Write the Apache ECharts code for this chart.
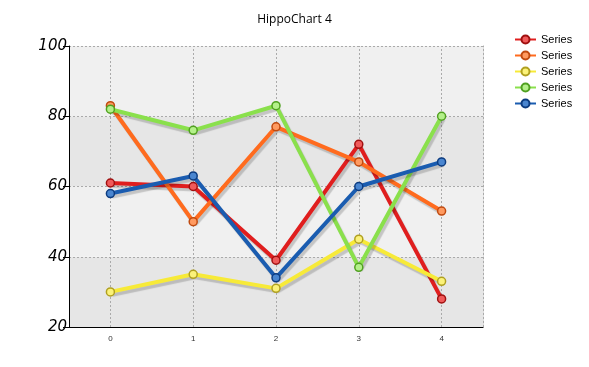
<!DOCTYPE html>
<html><head><meta charset="utf-8">
<script src="https://cdn.jsdelivr.net/npm/echarts@6/dist/echarts.min.js"></script>
<style>html,body{margin:0;padding:0;background:#fff}#c{width:589px;height:367px}</style>
</head><body><div id="c"></div>
<script>
const categories = ['0','1','2','3','4'];
const seriesNames = ['Series','Series','Series','Series','Series'];
const red = [61, 60, 39, 72, 28];
const orange = [83, 50, 77, 67, 53];
const yellow = [30, 35, 31, 45, 33];
const green = [82, 76, 83, 37, 80];
const blue = [58, 63, 34, 60, 67];
const yTicks = [20, 40, 60, 80, 100];

const allData = [red, orange, yellow, green, blue];
const lineColors = ['#e01e1e', '#ff6b1e', '#f7ea38', '#8ae04c', '#1a5cb0'];
const fillColors = ['#f05a5a', '#ff9a60', '#fbf27a', '#b4f08a', '#4a86d0'];
const borderColors = ['#a01010', '#c04a10', '#b0a020', '#50a020', '#0d3c80'];

const chart = echarts.init(document.getElementById('c'));
const series = allData.map((d, i) => {
  const s = {
    name: seriesNames[i] + (i ? '\u200b'.repeat(i) : ''),
    type: 'line',
    data: d,
    symbol: 'circle',
    symbolSize: 8,
    lineStyle: { width: 4, color: lineColors[i], shadowColor: 'rgba(0,0,0,0.18)', shadowOffsetX: 2, shadowOffsetY: 3, shadowBlur: 1 },
    itemStyle: { color: fillColors[i], borderColor: borderColors[i], borderWidth: 1.5 },
    emphasis: { disabled: true },
    z: 3
  };
  if (i === 0) {
    s.markLine = {
      silent: true, symbol: 'none', label: { show: false },
      lineStyle: { color: '#aaa', type: [2, 2], width: 1 },
      data: categories.map((c, k) => ({ xAxis: k })),
      z: 1
    };
  }
  return s;
});

chart.setOption({
  animation: false,
  backgroundColor: '#fff',
  title: { text: 'HippoChart 4', left: 'center', top: 9, textStyle: { fontSize: 12, fontWeight: 'normal', color: '#000', fontFamily: 'Open Sans' } },
  legend: {
    orient: 'vertical', left: 509, top: 29, itemGap: 5, itemWidth: 21, itemHeight: 10,
    textStyle: { fontSize: 11, color: '#000', fontFamily: 'Liberation Sans' },
    data: series.map(s => s.name)
  },
  grid: { left: 69, right: 106, top: 46, bottom: 40 },
  xAxis: {
    type: 'category', data: categories, boundaryGap: true,
    axisLine: { lineStyle: { color: '#000', width: 1 } },
    axisTick: { alignWithLabel: true, length: 5, lineStyle: { color: '#000' } },
    axisLabel: { fontSize: 8, color: '#333', margin: 8 },
    splitLine: { show: false }
  },
  yAxis: [{
    type: 'value', min: 20, max: 100, interval: 20,
    axisLine: { show: true, lineStyle: { color: '#000', width: 1 } },
    axisTick: { show: true, length: 6, lineStyle: { color: '#000' } },
    axisLabel: { fontSize: 15, fontStyle: 'italic', color: '#000', margin: 2, fontFamily: 'DejaVu Sans', fontWeight: 200 },
    splitLine: { show: true, lineStyle: { color: '#aaa', type: [2, 2] } },
    splitArea: { show: true, areaStyle: { color: ['#e6e6e6', '#f0f0f0'] } }
  }, {
    type: 'value', min: 20, max: 100, interval: 20, position: 'right',
    axisLine: { show: true, lineStyle: { color: '#aaa', type: [2, 2] } },
    axisTick: { show: false }, axisLabel: { show: false }, splitLine: { show: false }
  }],
  series: series
});
</script></body></html>
